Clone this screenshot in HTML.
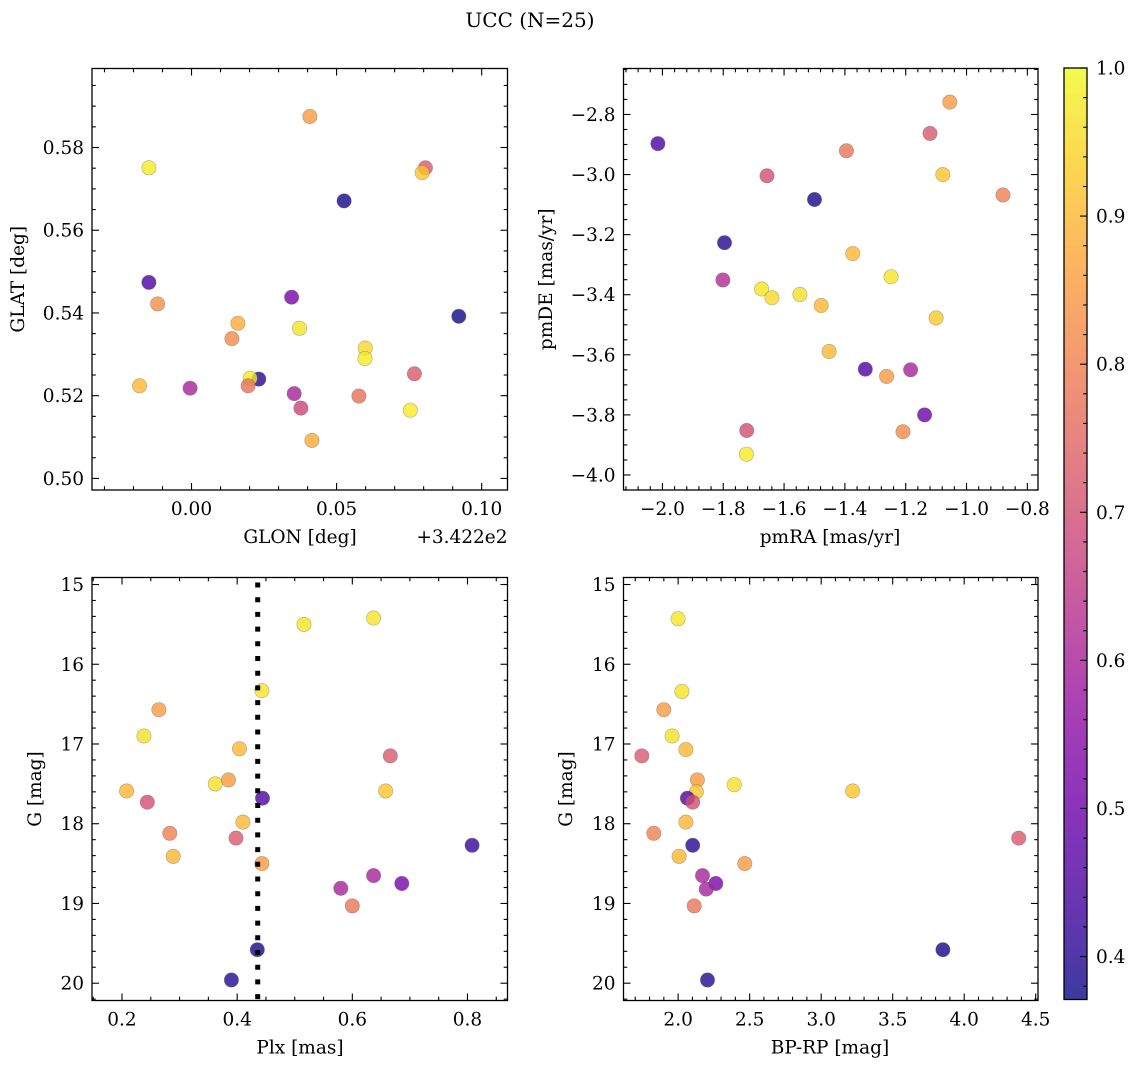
<!DOCTYPE html>
<html><head><meta charset="utf-8"><style>
html,body{margin:0;padding:0;background:#fff;}
svg{display:block;font-family:"DejaVu Serif","Liberation Serif",serif;}
</style></head><body>
<svg id="fig" width="1136" height="1067" viewBox="0 0 1136 1067" xmlns="http://www.w3.org/2000/svg">
<defs>
<linearGradient id="plasma" x1="0" y1="1" x2="0" y2="0"></linearGradient>
</defs>
<text x="530" y="27" font-size="20" text-anchor="middle">UCC (N=25)</text>
</svg>
<script>
// Panel 1: GLON vs GLAT (offset +3.422e2)
const glonX = [0.0408,-0.0147,0.0806,0.0795,0.0526,-0.0147,-0.0117,0.0345,0.0921,0.016,0.0139,0.0372,0.0599,0.0598,0.0768,-0.0179,-0.0005,0.0232,0.0202,0.0195,0.0354,0.0377,0.0577,0.0754,0.0415];
const glatY = [0.5875,0.5751,0.5751,0.5739,0.5671,0.5474,0.5422,0.5438,0.5392,0.5375,0.5338,0.5363,0.5315,0.529,0.5253,0.5224,0.5218,0.524,0.5242,0.5224,0.5205,0.517,0.5199,0.5165,0.5092];
const glonC = [0.85,0.98,0.72,0.92,0.38,0.45,0.83,0.52,0.37,0.88,0.82,0.97,0.95,0.98,0.72,0.90,0.60,0.40,0.98,0.77,0.60,0.68,0.77,0.98,0.88];
// Panel 2: pmRA vs pmDE
const pmraX = [-2.015,-1.055,-1.120,-1.395,-1.656,-1.078,-0.880,-1.500,-1.796,-1.374,-1.248,-1.801,-1.674,-1.640,-1.548,-1.478,-1.100,-1.452,-1.333,-1.263,-1.184,-1.138,-1.723,-1.209,-1.724];
const pmdeY = [-2.897,-2.759,-2.863,-2.921,-3.004,-3.0,-3.068,-3.083,-3.227,-3.263,-3.34,-3.351,-3.381,-3.41,-3.399,-3.436,-3.477,-3.589,-3.648,-3.672,-3.65,-3.8,-3.852,-3.856,-3.931];
const pmC = [0.45,0.85,0.72,0.78,0.70,0.92,0.80,0.38,0.40,0.90,0.97,0.62,0.97,0.95,0.96,0.90,0.93,0.90,0.45,0.85,0.60,0.50,0.70,0.82,0.98];
// Panel 3: Plx vs G
const plxX = [0.516,0.637,0.443,0.264,0.238,0.404,0.666,0.362,0.385,0.208,0.658,0.444,0.244,0.410,0.283,0.398,0.808,0.289,0.443,0.637,0.686,0.580,0.600,0.435,0.390];
const plxG = [15.50,15.42,16.33,16.57,16.90,17.06,17.15,17.50,17.45,17.59,17.59,17.68,17.73,17.98,18.12,18.18,18.27,18.41,18.50,18.65,18.75,18.81,19.03,19.58,19.96];
const plxC = [0.97,0.97,0.97,0.85,0.96,0.90,0.72,0.96,0.85,0.90,0.92,0.45,0.70,0.90,0.80,0.72,0.42,0.90,0.85,0.60,0.52,0.60,0.78,0.38,0.40];
const plxLine = [0.4357];
// Panel 4: BP-RP vs G
const bprpX = [2.00,2.026,1.90,1.958,2.054,1.746,2.135,2.393,2.128,3.220,2.065,2.102,2.054,1.830,4.381,2.102,2.007,2.466,2.170,2.263,2.196,2.112,3.851,2.205];
const bprpG = [15.43,16.34,16.57,16.90,17.07,17.15,17.45,17.51,17.60,17.59,17.68,17.73,17.98,18.12,18.18,18.27,18.41,18.50,18.65,18.75,18.82,19.03,19.58,19.96];
const bprpC = [0.97,0.97,0.85,0.96,0.90,0.72,0.85,0.96,0.92,0.92,0.45,0.70,0.90,0.80,0.72,0.40,0.90,0.85,0.60,0.52,0.60,0.78,0.38,0.40];
// Tick labels
const tlXTicks = ["0.00","0.05","0.10"];
const tlYTicks = ["0.50","0.52","0.54","0.56","0.58"];
const trXTicks = ["−2.0","−1.8","−1.6","−1.4","−1.2","−1.0","−0.8"];
const trYTicks = ["−4.0","−3.8","−3.6","−3.4","−3.2","−3.0","−2.8"];
const blXTicks = ["0.2","0.4","0.6","0.8"];
const gTicks = ["15","16","17","18","19","20"];
const brXTicks = ["2.0","2.5","3.0","3.5","4.0","4.5"];
const cbTicks = ["0.4","0.5","0.6","0.7","0.8","0.9","1.0"];

const NS = "http://www.w3.org/2000/svg";
const svg = document.getElementById('fig');
const VMIN = 0.371, VMAX = 1.0;
const TFS = 18.5, LFS = 18.5;
const PL = [[13,8,135],[65,4,157],[106,0,168],[143,13,164],[177,42,144],[204,71,120],[225,100,98],[242,132,75],[252,166,54],[252,206,37],[240,249,33]];
function plasma(t){
  t = Math.max(0, Math.min(1, t));
  const f = t*10, i = Math.min(9, Math.floor(f)), r = f - i;
  const a = PL[i], b = PL[i+1];
  return 'rgb(' + [0,1,2].map(k => Math.round(a[k] + (b[k]-a[k])*r)).join(',') + ')';
}
function mk(tag, attrs, parent){
  const e = document.createElementNS(NS, tag);
  for (const k in attrs) e.setAttribute(k, attrs[k]);
  (parent || svg).appendChild(e);
  return e;
}
function parseV(s){ return parseFloat(s.replace('−','-')); }

function panel(o){
  const g = mk('g', {});
  
  
  const sx = v => o.x0 + (v - o.xmin)/(o.xmax - o.xmin)*(o.x1 - o.x0);
  const sy = o.invertY
    ? v => o.y0 + (v - o.ymin)/(o.ymax - o.ymin)*(o.y1 - o.y0)
    : v => o.y1 - (v - o.ymin)/(o.ymax - o.ymin)*(o.y1 - o.y0);
  for (let i = 0; i < o.xs.length; i++) {
    const c = mk('circle', {cx: sx(o.xs[i]).toFixed(1), cy: sy(o.ys[i]).toFixed(1), r: 7.2,
      fill: plasma((o.cs[i]-VMIN)/(VMAX-VMIN)), 'fill-opacity': 0.8, stroke: '#666', 'stroke-opacity': 0.5, 'stroke-width': 0.6}, g);
    
    
  }
  if (o.vline) {
    const vl = mk('line', {x1: sx(o.vline[0]), x2: sx(o.vline[0]), y1: o.y0+5, y2: o.y1, stroke: '#000', 'stroke-width': 5, 'stroke-dasharray': '5 9.7'}, g);
    
    
  }
  const tk = (x1,y1,x2,y2) => mk('line', {x1,y1,x2,y2, stroke:'#000','stroke-width':1.1}, g);
  const ML = 7, mL = 3.8;
  for (let v = o.xminorStart; v <= o.xmax + 1e-9; v += o.xminor) {
    const x = sx(v); if (x < o.x0 - 0.1 || x > o.x1 + 0.1) continue;
    const isMaj = o.xTicks.some(t => Math.abs(parseV(t) - v) < o.xminor*0.1);
    const L = isMaj ? ML : mL;
    tk(x, o.y1, x, o.y1 - L); tk(x, o.y0, x, o.y0 + L);
  }
  for (let v = o.yminorStart; v <= o.ymax + 1e-9; v += o.yminor) {
    const y = sy(v); if (y < o.y0 - 0.1 || y > o.y1 + 0.1) continue;
    const isMaj = o.yTicks.some(t => Math.abs(parseV(t) - v) < o.yminor*0.1);
    const L = isMaj ? ML : mL;
    tk(o.x0, y, o.x0 + L, y); tk(o.x1, y, o.x1 - L, y);
  }
  o.xTicks.forEach(t => {
    const e = mk('text', {x: sx(parseV(t)), y: o.y1 + 25, 'font-size': TFS, 'text-anchor': 'middle'}, g);
    e.textContent = t;
    
    
  });
  o.yTicks.forEach(t => {
    const e = mk('text', {x: o.x0 - 8, y: sy(parseV(t)) + 6.5, 'font-size': TFS, 'text-anchor': 'end'}, g);
    e.textContent = t;
    
    
  });
  const fr = mk('rect', {x: o.x0, y: o.y0, width: o.x1 - o.x0, height: o.y1 - o.y0, fill: 'none', stroke: '#000', 'stroke-width': 1.3}, g);
  
  
  const xl = mk('text', {x: o.xlx, y: o.y1 + 53, 'font-size': LFS, 'text-anchor': 'middle'}, g);
  xl.textContent = o.xlabel;
  
  
  const cy = (o.y0 + o.y1)/2;
  const yl = mk('text', {x: o.ylx, y: cy, 'font-size': LFS, 'text-anchor': 'middle', transform: 'rotate(-90 ' + o.ylx + ' ' + cy + ')'}, g);
  yl.textContent = o.ylabel;
  
  
  if (o.offset) {
    const ot = mk('text', {x: o.x1, y: o.y1 + 53, 'font-size': LFS, 'text-anchor': 'end'}, g);
    ot.textContent = o.offset;
    
    
  }
}

panel({name:'glon-glat-panel', x0:92, x1:507.5, y0:68.5, y1:490, xmin:-0.0343, xmax:0.1089, ymin:0.4972, ymax:0.5991,
  xs:glonX, ys:glatY, cs:glonC, xTicks:tlXTicks, yTicks:tlYTicks, xminor:0.01, xminorStart:-0.03, yminor:0.005, yminorStart:0.5,
  xlabel:'GLON [deg]', xlx:300, ylabel:'GLAT [deg]', ylx:24, offset:'+3.422e2'});
panel({name:'pm-panel', x0:623.5, x1:1038, y0:68.5, y1:490, xmin:-2.128, xmax:-0.765, ymin:-4.05, ymax:-2.647,
  xs:pmraX, ys:pmdeY, cs:pmC, xTicks:trXTicks, yTicks:trYTicks, xminor:0.04, xminorStart:-2.12, yminor:0.05, yminorStart:-4.05,
  xlabel:'pmRA [mas/yr]', xlx:830, ylabel:'pmDE [mas/yr]', ylx:552});
panel({name:'plx-g-panel', x0:92, x1:507.5, y0:577.5, y1:1000.5, xmin:0.1479, xmax:0.8695, ymin:14.912, ymax:20.217, invertY:true,
  xs:plxX, ys:plxG, cs:plxC, xTicks:blXTicks, yTicks:gTicks, xminor:0.05, xminorStart:0.15, yminor:0.2, yminorStart:15.0,
  xlabel:'Plx [mas]', xlx:300, ylabel:'G [mag]', ylx:41, vline:plxLine});
panel({name:'bprp-g-panel', x0:623.5, x1:1038, y0:577.5, y1:1000.5, xmin:1.618, xmax:4.516, ymin:14.912, ymax:20.217, invertY:true,
  xs:bprpX, ys:bprpG, cs:bprpC, xTicks:brXTicks, yTicks:gTicks, xminor:0.1, xminorStart:1.7, yminor:0.2, yminorStart:15.0,
  xlabel:'BP-RP [mag]', xlx:830, ylabel:'G [mag]', ylx:572});

(function(){
  const grad = document.getElementById('plasma');
  for (let i = 0; i <= 10; i++) {
    const t = VMIN + (VMAX - VMIN)*i/10;
    mk('stop', {offset: (i*10) + '%', 'stop-color': plasma((t - VMIN)/(VMAX - VMIN))}, grad);
  }
  const g = mk('g', {});
  
  
  const x0 = 1064, x1 = 1087, y0 = 68, y1 = 999.5;
  const sy = v => y1 - (v - VMIN)/(VMAX - VMIN)*(y1 - y0);
  const r = mk('rect', {x: x0, y: y0, width: x1-x0, height: y1-y0, fill: 'url(#plasma)', 'fill-opacity': 0.8}, g);
  
  
  for (let v = 0.38; v <= 1.0001; v += 0.02) {
    const y = sy(v);
    const maj = cbTicks.some(t => Math.abs(parseFloat(t) - v) < 0.002);
    mk('line', {x1: x1, x2: x1 - (maj ? 7 : 3.8), y1: y, y2: y, stroke: '#000', 'stroke-width': 1.1}, g);
  }
  cbTicks.forEach(t => {
    const e = mk('text', {x: x1 + 9, y: sy(parseFloat(t)) + 6.5, 'font-size': TFS}, g);
    e.textContent = t;
    
    
  });
  mk('rect', {x: x0, y: y0, width: x1-x0, height: y1-y0, fill: 'none', stroke: '#000', 'stroke-width': 1.3}, g);
})();
</script>
</body></html>
